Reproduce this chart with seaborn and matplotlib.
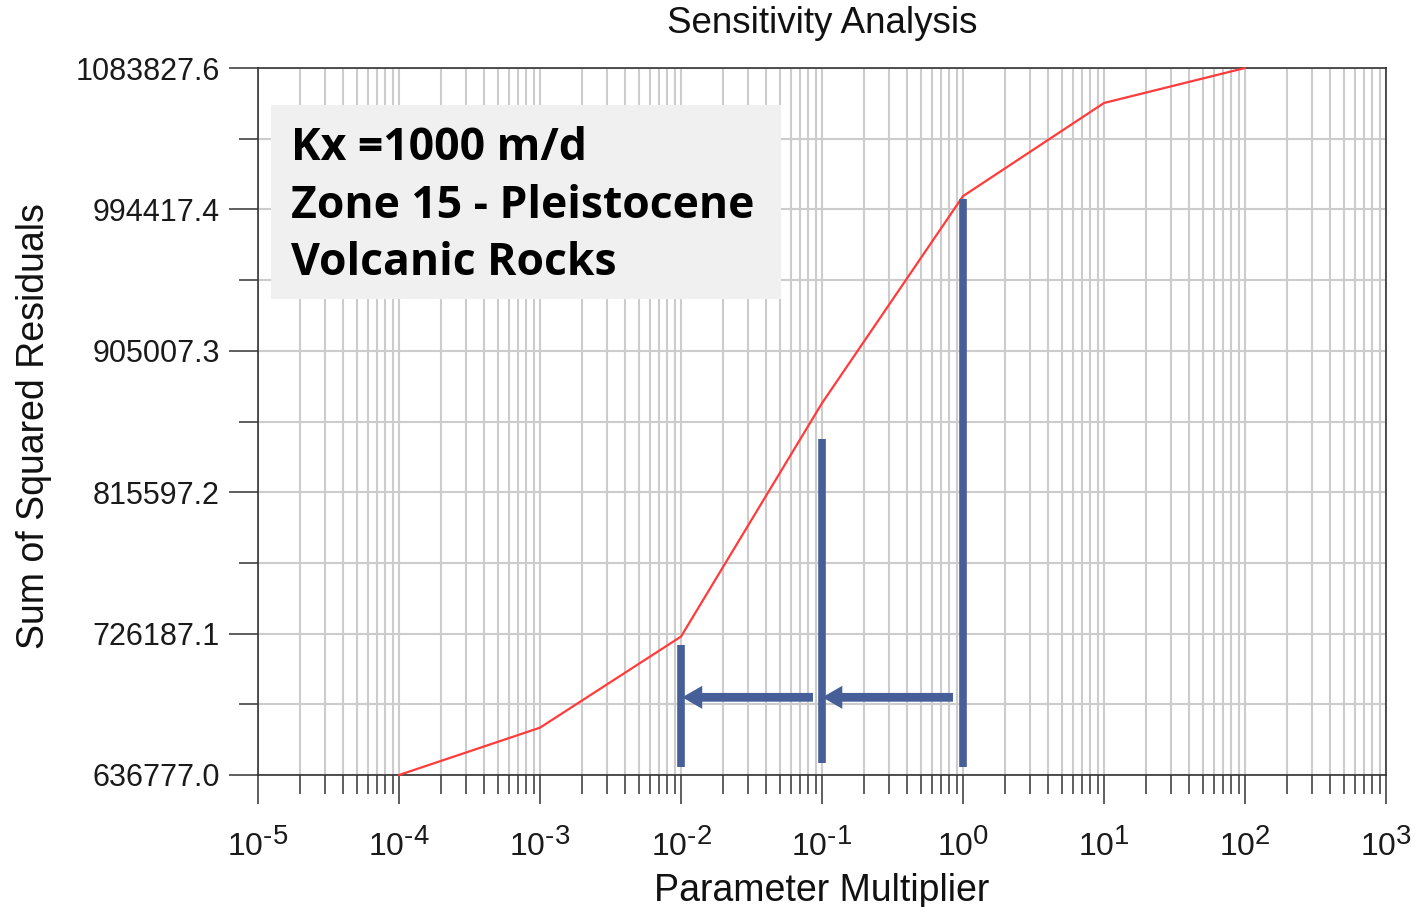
import numpy as np
import matplotlib
matplotlib.use("Agg")
import matplotlib.pyplot as plt
from matplotlib.patches import Rectangle
import matplotlib._mathtext as _mt
import seaborn as sns

# ---------------- data ----------------
multipliers = [1e-4, 1e-3, 1e-2, 1e-1, 1e0, 1e1, 1e2]
ssr = [636777.0, 666700.0, 724300.0, 871900.0, 1002800.0, 1061700.0, 1083827.6]
y_tick_labels = ["636777.0", "726187.1", "815597.2", "905007.3", "994417.4", "1083827.6"]
x_tick_exponents = [-5, -4, -3, -2, -1, 0, 1, 2, 3]
title_text = "Sensitivity Analysis"
x_label = "Parameter Multiplier"
y_label = "Sum of Squared Residuals"
box_lines = ["Kx =1000 m/d", "Zone 15 - Pleistocene", "Volcanic Rocks"]

# annotation marks (bars at multipliers 1e-2, 1e-1, 1e0 and arrows between them)
bar_x = [1e-2, 1e-1, 1e0]
bar_ymin = [641600.0, 644200.0, 641600.0]
bar_ymax = [718800.0, 849500.0, 1000800.0]
arrow_y = 685900.0
arrow_starts = [0.849, 0.0863]
arrow_tips = [0.1005, 0.0102]

# ---------------- style ----------------
sns.set_style("ticks")
plt.rcParams["font.family"] = ["Liberation Sans", "DejaVu Sans"]
plt.rcParams["mathtext.fontset"] = "custom"
plt.rcParams["mathtext.rm"] = "Liberation Sans"
plt.rcParams["mathtext.it"] = "Liberation Sans:italic"
plt.rcParams["mathtext.bf"] = "Liberation Sans:bold"
# larger superscripts, as in the reference
_mt.SHRINK_FACTOR = 0.86

RED = "#ff3b3b"
BLUE = "#465f98"
DARK = "#333333"
GRID = "#cccccc"

fig = plt.figure(figsize=(14.17, 9.07), dpi=100)
ax = fig.add_axes([258 / 1417, 1 - 775 / 907, (1386 - 258) / 1417, (775 - 68) / 907])

sns.lineplot(x=multipliers, y=ssr, ax=ax, color=RED, linewidth=1.6, clip_on=False, zorder=4)

ax.set_xscale("log")
ax.set_xlim(10.0 ** x_tick_exponents[0], 10.0 ** x_tick_exponents[-1])
y_lo, y_hi = min(ssr), max(ssr)
ax.set_ylim(y_lo, y_hi)

# x ticks
def exp_label(e):
    s = str(e).replace("-", "\u2010")
    return r"$\mathregular{10^{%s}}$" % s

major_x = [10.0 ** e for e in x_tick_exponents]
ax.set_xticks(major_x, labels=[exp_label(e) for e in x_tick_exponents])
minor_x = [m * 10.0 ** e for e in x_tick_exponents[:-1] for m in range(2, 10)]
ax.set_xticks(minor_x, minor=True)
ax.set_xticklabels([], minor=True)

# y ticks
major_y = np.linspace(y_lo, y_hi, len(y_tick_labels))
ax.set_yticks(major_y, labels=y_tick_labels)
ax.set_yticks((major_y[:-1] + major_y[1:]) / 2, minor=True)

ax.tick_params(axis="both", which="major", length=21, width=1.1, color=DARK,
               labelcolor="#1a1a1a", direction="out")
ax.tick_params(axis="y", which="major", labelsize=22, pad=6.5)
ax.tick_params(axis="x", which="major", labelsize=23, pad=17)
ax.tick_params(axis="both", which="minor", length=13.5, width=1.1, color=DARK, direction="out")

ax.grid(True, which="both", color=GRID, linewidth=1.5)
ax.set_axisbelow(True)
for s in ax.spines.values():
    s.set_visible(True)
    s.set_color(DARK)
    s.set_linewidth(1.2)

ax.set_title(title_text, fontsize=26.5, pad=25, color="#111111")
ax.set_xlabel(x_label, fontsize=27, color="#111111")
ax.set_ylabel(y_label, fontsize=27, color="#111111")
ax.xaxis.set_label_coords(0.5, -0.139)
ax.yaxis.set_label_coords(-0.1826, 0.494)

# vertical bars
vl = ax.vlines(bar_x, bar_ymin, bar_ymax, colors=BLUE, linewidth=5.5, zorder=5)
vl.set_capstyle("butt")

# arrows
for xs, xt in zip(arrow_starts, arrow_tips):
    ax.annotate("", xy=(xt, arrow_y), xytext=(xs, arrow_y),
                arrowprops=dict(arrowstyle="simple,head_length=14.4,head_width=16.6,tail_width=6.3",
                                mutation_scale=1, color=BLUE, lw=0, shrinkA=0, shrinkB=0),
                zorder=5)

# text box
rect = Rectangle((271 / 1417, 1 - 299 / 907), 509.5 / 1417, 194 / 907,
                 transform=fig.transFigure, facecolor="#f0f0f0", edgecolor="none", zorder=6)
ax.add_patch(rect)
rect.set_clip_on(False)
baselines = [159.5, 218, 275]
for line, b in zip(box_lines, baselines):
    fig.text(291 / 1417, 1 - b / 907, line, fontsize=32, fontweight="bold",
             family=["Open Sans", "DejaVu Sans"], color="black", va="baseline", ha="left", zorder=7)

fig.savefig("out.png", dpi=100)
